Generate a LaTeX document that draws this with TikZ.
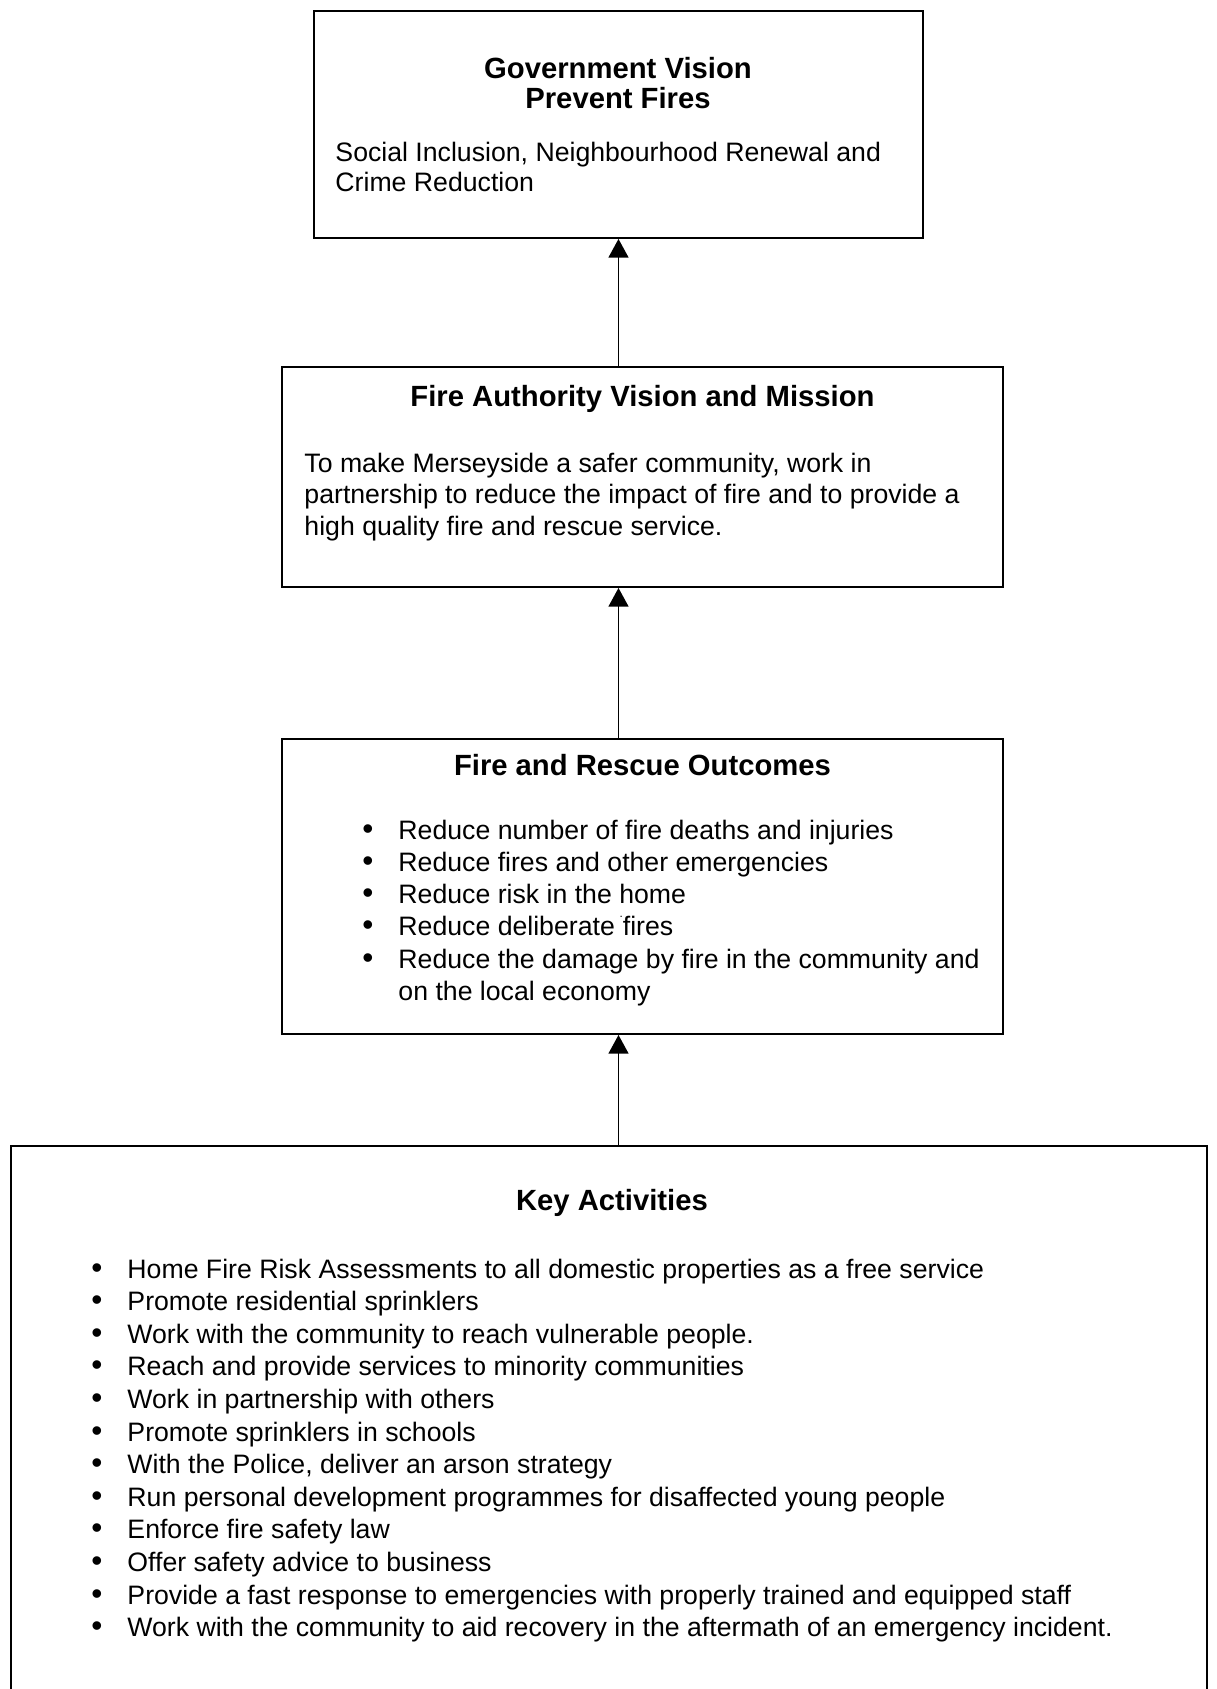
\documentclass[tikz,border=0pt]{standalone}
\usepackage{fontspec}
\setmainfont{Liberation Sans}
\usetikzlibrary{arrows.meta, positioning}
\newdimen\px \px=0.4275pt

\begin{document}
\begin{tikzpicture}
  [x=\px, y=-\px,
   every node/.style={font=\fontsize{11.4pt}{13.8pt}\selectfont, inner sep=0pt},
   box/.style 2 args={draw, line width=0.8pt, minimum width=#1\px, minimum height=#2\px},
   title/.style={font=\fontsize{12.5pt}{13.8pt}\selectfont\bfseries, anchor=base},
   line/.style={anchor=base west},
   dot/.style={anchor=base, font=\fontsize{13.5pt}{13.5pt}\selectfont},
   up/.style={-{Triangle[width=8.5pt,length=8pt]}, line width=0.8pt}]
  \useasboundingbox (0,0) rectangle (1217,1689);

  % the four boxes
  \node[box={609}{227}] (gov) at (618.5,124.5) {};
  \node[box={721}{220}] (fav) at (642.5,477) {};
  \node[box={721}{295}] (fro) at (642.5,886.5) {};
  \node[box={1196}{560}] (key) at (609,1426) {};

  % government vision
  \node[title] (govt1) at (618,78) {Government Vision};
  \node[title] (govt2) at (618,108) {Prevent Fires};
  \node[line] (govl1) at (335,161) {Social Inclusion, Neighbourhood Renewal and};
  \node[line] (govl2) at (335,191) {Crime Reduction};

  % fire authority
  \node[title] (favt) at (642.5,406) {Fire Authority Vision and Mission};
  \foreach \t [count=\i from 0] in {
      {To make Merseyside a safer community, work in},
      partnership to reduce the impact of fire and to provide a,
      high quality fire and rescue service.}
    \node[line] (favl\i) at (304,472+31.5*\i) {\t};

  % outcomes
  \node[title] (frot) at (642.5,775) {Fire and Rescue Outcomes};
  \foreach \t [count=\i from 0] in {
      Reduce number of fire deaths and injuries,
      Reduce fires and other emergencies,
      Reduce risk in the home,
      Reduce deliberate\kern2pt\raisebox{1.3ex}{\fontsize{5pt}{5pt}\selectfont.}fires,
      Reduce the damage by fire in the community and}
  {
    \node[dot] (frob\i) at (368,839+32.3*\i) {\textbullet};
    \node[line] (frol\i) at (398,839+32.3*\i) {\t};
  }
  \node[line] (frol5) at (398,1000.5) {on the local economy};

  % key activities
  \node[title] (keyt) at (612,1210) {Key Activities};
  \foreach \t [count=\i from 0] in {
      Home Fire Risk Assessments to all domestic properties as a free service,
      Promote residential sprinklers,
      Work with the community to reach vulnerable people.,
      Reach and provide services to minority communities,
      Work in partnership with others,
      Promote sprinklers in schools,
      {With the Police, deliver an arson strategy},
      Run personal development programmes for disaffected young people,
      Enforce fire safety law,
      Offer safety advice to business,
      Provide a fast response to emergencies with properly trained and equipped staff,
      Work with the community to aid recovery in the aftermath of an emergency incident.}
  {
    \node[dot] (keyb\i) at (97,1278+32.6*\i) {\textbullet};
    \node[line] (keyl\i) at (127,1278+32.6*\i) {\t};
  }

  % arrows
  \draw[up] (gov.south |- fav.north) -- (gov.south);
  \draw[up] (gov.south |- fro.north) -- (gov.south |- fav.south);
  \draw[up] (gov.south |- key.north) -- (gov.south |- fro.south);
\end{tikzpicture}
\end{document}
